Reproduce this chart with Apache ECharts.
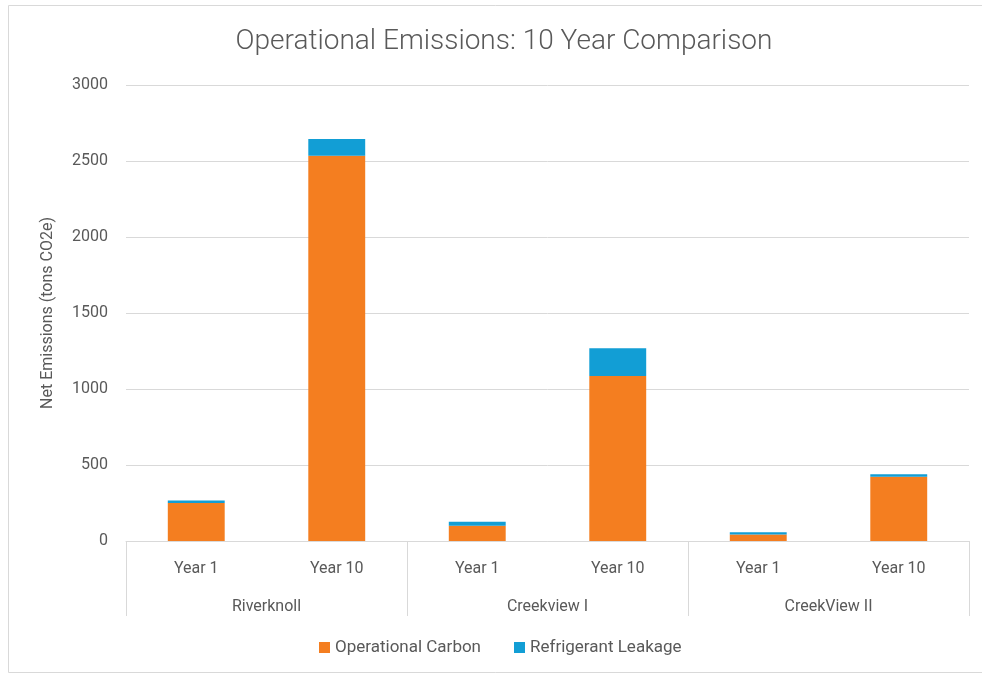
<!DOCTYPE html>
<html>
<head>
<meta charset="utf-8">
<script src="https://cdn.jsdelivr.net/npm/echarts@6/dist/echarts.min.js"></script>
<style>
  html, body { margin: 0; padding: 0; background: #fff; }
  #chart { width: 982px; height: 675px; }
</style>
</head>
<body>
<div id="chart"></div>
<script>
// Bar categories (inner level) and their site groups (outer level)
const periods = ['Year 1', 'Year 10', 'Year 1', 'Year 10', 'Year 1', 'Year 10'];
const sites = ['Riverknoll', 'Creekview I', 'CreekView II'];

// Net emissions per bar, tons CO2e
const operationalCarbon = [250, 2535, 100, 1085, 42, 423];
const refrigerantLeakage = [17, 110, 27, 183, 15, 16];

// Value axis ticks
const yMin = 0, yMax = 3000, yStep = 500;

const FONT = 'Roboto, "Noto Sans", sans-serif';
const TEXT = '#595959';
const LINE = '#d9d9d9';

const chart = echarts.init(document.getElementById('chart'), null, { renderer: 'canvas' });

chart.setOption({
  animation: false,
  textStyle: { fontFamily: FONT, color: TEXT },
  title: {
    text: 'Operational Emissions: 10 Year Comparison',
    left: 499,
    textAlign: 'center',
    top: 23,
    textStyle: { fontFamily: FONT, fontSize: 28, fontWeight: 300, color: TEXT }
  },
  graphic: [{
    type: 'rect',
    shape: { x: 8.5, y: 5.5, width: 990, height: 667 },
    style: { fill: 'none', stroke: LINE, lineWidth: 1 },
    silent: true,
    z: -1
  }],
  legend: {
    bottom: 14,
    left: 314,
    itemWidth: 11,
    itemHeight: 11,
    itemGap: 33,
    icon: 'rect',
    textStyle: { fontFamily: FONT, fontSize: 17, color: TEXT },
    data: ['Operational Carbon', 'Refrigerant Leakage']
  },
  grid: { left: 126, right: 13, top: 85, bottom: 134, containLabel: false },
  xAxis: [
    {
      type: 'category',
      data: periods,
      position: 'bottom',
      axisLine: { show: true, lineStyle: { color: LINE, width: 1 } },
      axisTick: { show: false },
      axisLabel: { margin: 20, fontSize: 16, color: TEXT, fontFamily: FONT, interval: 0 }
    },
    {
      type: 'category',
      data: sites,
      position: 'bottom',
      axisLine: { show: false },
      axisTick: { show: true, length: 75, interval: 0, lineStyle: { color: LINE, width: 1 } },
      axisLabel: { margin: 58, fontSize: 16, color: TEXT, fontFamily: FONT, interval: 0 },
      splitLine: { show: false }
    }
  ],
  yAxis: {
    type: 'value',
    min: yMin,
    max: yMax,
    interval: yStep,
    name: 'Net Emissions (tons CO2e)',
    nameLocation: 'middle',
    nameRotate: 90,
    nameGap: 70,
    nameTextStyle: { fontFamily: FONT, fontSize: 16, color: TEXT },
    axisLine: { show: false },
    axisTick: { show: false },
    axisLabel: { margin: 18, fontSize: 16, color: TEXT, fontFamily: FONT, formatter: v => String(v) },
    splitLine: { lineStyle: { color: LINE, width: 1 } }
  },
  series: [
    {
      name: 'Operational Carbon',
      type: 'bar',
      stack: 'total',
      xAxisIndex: 0,
      barWidth: '40.5%',
      itemStyle: { color: '#F47E20' },
      data: operationalCarbon
    },
    {
      name: 'Refrigerant Leakage',
      type: 'bar',
      stack: 'total',
      xAxisIndex: 0,
      barWidth: '40.5%',
      itemStyle: { color: '#129ED5' },
      data: refrigerantLeakage
    }
  ]
});
</script>
</body>
</html>
